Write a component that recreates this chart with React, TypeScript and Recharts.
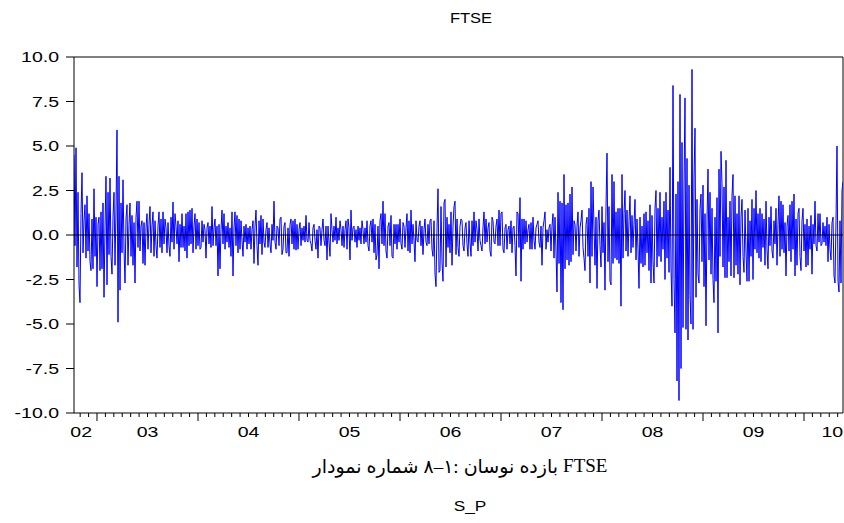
import { LineChart, Line, XAxis, YAxis, ReferenceLine } from "recharts"

// FTSE daily return (Oct 2002 - May 2010)
const r2002 = [4.5, -0.6, 4.9, -1.8, 2.4, -2.8, -3.8, 1.2, 3.5, -1.0, 0.8, 1.7, -1.3, 2.2, -0.9, 1.2, -1.5, -2.0, 0.9, -1.9, 2.6, -1.2, 1.0]
const r2003 = [
  -2.9, 0.6, 1.0, -2.0, 1.3, -1.9, 1.8, -3.5, 0.4, 3.3,
  -2.8, 2.4, -1.1, 3.2, -1.2, -2.2, 1.0, 2.4, -1.7, 1.4,
  5.9, -4.9, 3.3, -3.1, 1.8, -1.0, 3.1, -0.8, -2.7, 0.9,
  1.7, -1.7, 0.6, 1.8, -1.2, 1.1, -1.7, 0.7, -2.7, 1.0,
  1.9, -0.7, 1.9, -0.9, 0.5, 0.8, -1.6, 0.7, -1.7, 0.4,
  1.2, -0.8, 0.6, 1.6, -1.0, 0.5, 1.3, -1.2, 0.8, -0.6,
  -1.3, 0.5, 1.3, -0.7, 0.9, -1.0, 1.3, -0.5, 0.9, 0.4,
  -1.0, 0.7, -0.6, -1.2, 1.0, -0.4, 1.85, -0.8, 1.2, 0.5,
  -0.5, 0.8, -1.5, 0.6, -0.7, 1.2, -0.7, 0.5, -0.9, 1.2,
  -1.3, 1.3, -0.6, 1.4, -0.5, 1.5, -1.0, 0.5, 1.2, -0.8,
  0.9, -0.6,
]
const r2004 = [
  0.7, -0.8, -0.7, 0.8, -0.4, 0.6, 0.3, -1.3, 0.4, 0.7,
  -0.5, 0.5, -0.7, 1.6, -0.6, 0.4, 0.9, -0.6, 0.5, -2.3,
  0.6, -1.9, 0.3, 1.4, -0.5, 1.2, -0.8, 0.5, -0.4, 0.7,
  -0.7, 0.4, -1.2, 1.3, -2.3, 0.4, 1.3, -0.6, 1.1, -1.0,
  0.9, -0.8, 0.8, -0.3, -1.2, 0.5, -0.4, 0.6, -0.8, 0.4,
  -0.5, 0.5, -0.8, 0.3, 0.8, -1.6, 0.5, 1.4, -0.6, -1.7,
  0.8, -0.5, 1.1, -1.1, 0.9, -0.4, -0.7, 0.3, 0.7, -0.7,
  0.4, -0.5, -1.0, 0.6, -0.3, 1.9, -0.4, -0.8, 0.5, 0.4,
  -0.6, 0.9, 1.0, -1.1, -0.8, 0.5, 0.7, -1.0, -1.0, 0.4,
  -1.2, 0.6, 0.9, -0.5, 0.8, -0.8, 0.9, -0.85, 0.6, -0.8,
]
const r2005 = [
  0.3, 0.7, -0.6, 0.4, -0.3, 0.5, -0.4, 1.1, -0.3, -0.4,
  0.7, -0.3, -0.5, -0.9, 0.4, 0.6, -0.3, -0.8, 0.3, -1.3,
  0.5, 0.4, -0.6, 0.3, 0.9, -0.3, -0.6, 0.5, -1.4, 0.5,
  -0.4, -1.2, 1.2, 0.3, -0.4, 0.5, -0.3, 1.0, -0.5, 0.4,
  -0.3, 0.8, 0.3, -0.6, 0.5, -0.7, 0.3, 0.8, -0.8, 0.9,
  0.4, -1.4, 1.4, -0.3, 0.4, 0.5, -0.4, 0.3, -0.7, 0.5,
  -0.3, 0.4, -0.5, 0.8, 0.3, -0.5, 0.4, -0.4, 0.8, -0.6,
  -0.9, 0.5, 0.8, -0.4, 0.9, -1.0, 0.6, -1.4, -1.1, 0.5,
  -1.9, 0.8, 1.2, -0.5, 1.9, -0.6, 1.2, -0.9, -1.3, 0.5,
  0.7, -0.6, 1.1, -1.2, -1.3, 0.6, -0.5, 0.6, -0.8, 0.6,
  -0.4,
]
const r2006 = [
  0.9, -0.5, -0.8, 0.7, 0.5, -0.7, 0.4, 1.2, -0.9, 0.8,
  -1.0, 1.4, -0.5, 0.6, -0.3, -1.5, 0.8, -0.3, -0.4, 0.5,
  0.8, -0.6, 0.5, -1.1, 0.3, 0.9, -0.4, -0.6, 0.6, -0.5,
  0.8, 0.9, -0.8, -1.2, 0.8, -2.2, -2.9, 0.4, 2.6, -2.1,
  -2.0, 1.6, -1.5, -2.6, 1.8, 2.0, -1.8, 1.0, -0.7, 0.6,
  -1.0, 1.3, -1.7, 0.5, 1.6, 1.9, -1.1, 0.9, -0.7, -1.2,
  0.5, 0.9, 0.8, -0.6, -0.9, 0.4, 0.7, -0.5, -1.2, 0.8,
  -0.4, -1.2, 0.8, -0.6, 1.3, -0.4, 0.8, 0.3, -0.9, 0.9,
  -0.3, -0.6, -0.9, 0.4, 1.3, -0.5, 0.9, -0.4, 0.4, 0.7,
  -0.9, -1.2, 1.0, 0.8, -0.4, -0.5, 0.5, 0.9, -0.6, 1.4,
]
const r2007 = [
  -0.6, 1.2, 1.3, -0.8, -1.0, 0.4, 0.6, -0.8, 0.3, 0.5,
  -0.5, 0.8, -1.0, 0.4, 0.5, -0.6, -2.3, 1.3, 1.2, -0.7,
  2.1, -2.6, 0.9, -0.8, 0.9, -0.5, 0.8, -0.4, 0.3, 0.6,
  -0.8, 0.7, -0.8, 1.0, -0.3, -0.8, 0.4, 0.6, 0.8, -0.4,
  -0.7, 0.5, -1.7, 0.4, 0.8, 1.3, -0.8, 0.3, -0.4, 0.4,
  0.6, -0.9, 0.5, 1.2, -1.3, 1.0, -0.9, -3.2, 2.4, -1.6,
  1.9, -3.8, 1.8, -4.2, 3.4, -1.9, 1.7, -1.4, 1.8, -1.7,
  2.3, -1.5, 2.7, -1.1, 0.8, 0.6, -0.9, 0.5, 1.3, -1.2,
  0.4, 0.8, 1.4, -0.7, -1.3, -2.0, 0.6, 1.0, -1.2, 1.5,
  -2.7, 3.0, -1.2, 2.7, 0.5, -1.7, 1.0, -3.0, 0.8, 1.4,
  -0.6,
]
const r2008 = [
  -1.8, 1.6, -1.0, 0.7, -3.1, 1.6, 4.6, -1.5, 1.6, -2.6,
  -2.8, 3.4, -1.6, 3.0, -1.3, 1.3, -1.4, 1.5, -1.6, 1.5,
  -4.0, 3.4, -1.3, 1.2, 2.5, -0.9, 1.4, -1.2, 0.8, 2.2,
  -1.0, 1.1, -0.7, 0.6, 2.0, -1.4, 0.9, -0.8, -3.0, 1.0,
  -1.6, 0.5, -1.8, 1.2, -1.7, 1.3, -1.0, 0.8, -2.0, 1.7,
  -2.7, 1.1, -1.5, -2.7, 1.5, 2.5, -1.8, 1.5, -1.2, 2.4,
  -1.5, 1.0, -0.8, 1.9, -2.5, 2.4, -1.3, 1.4, -2.1, 3.8,
  -1.9, -4.0, 8.4, -2.5, -5.5, 2.3, -8.2, 3.0, -9.3, 7.9,
  -7.5, 5.2, -5.2, 2.8, 7.7, -5.3, 4.3, -5.9, 2.8, -3.4,
  -5.0, 9.3, -5.3, 3.2, 6.0, -3.5, 2.0, -2.2, -2.7, 1.5,
  2.3, -1.5,
]
const r2009 = [
  2.8, -2.9, 1.2, -5.1, 0.8, 3.7, -1.4, 2.4, -2.2, 1.5,
  -2.5, -3.8, 1.0, -2.6, 2.1, -5.5, 3.7, -1.2, 4.7, 2.9,
  -1.8, 2.7, -2.4, 4.2, -2.4, 1.0, -1.5, 1.9, -2.3, 2.2,
  3.4, -2.4, 2.2, -1.7, 1.2, -2.2, 2.2, -2.8, 1.0, 2.0,
  -1.2, -2.1, 1.4, -0.9, -2.6, 1.5, -2.6, 0.8, -1.2, 2.0,
  -2.5, 1.5, -0.8, 2.5, -1.0, 1.2, -1.3, 1.5, -1.5, 1.2,
  -0.7, 0.9, -1.7, 1.9, -0.8, -1.9, 1.0, -0.6, 1.6, -0.9,
  -1.3, 0.8, -0.5, 1.5, -1.7, 0.6, 2.2, -1.2, 1.9, -0.8,
  1.7, -1.0, 0.7, -2.3, 0.5, 1.1, -0.9, 1.7, -1.5, 1.9,
  -0.8, 2.3, -2.3, 0.9, -1.7, 1.2, 1.5, -1.2, -2.0, 0.8,
  1.5,
]
const r2010 = [
  -0.9, 0.6, -1.8, 0.9, -1.7, 0.5, -0.8, 1.1, -2.2, 0.6,
  -0.5, 1.9, -0.6, -0.9, 1.2, -0.4, 1.2, -0.6, -0.5, 0.7,
  -0.4, 0.5, -0.6, 1.0, -1.5, 0.6, -0.8, -1.4, 0.7, 1.0,
  -2.3, -2.7, 0.8, 5.0, -2.6, -3.2, 0.8, -2.7, 2.5, 3.0,
]

const ftse = [...r2002, ...r2003, ...r2004, ...r2005, ...r2006, ...r2007, ...r2008, ...r2009, ...r2010]

const START = 2002.7723
const END = 2010.3861

const yTicks = [-10, -7.5, -5, -2.5, 0, 2.5, 5, 7.5, 10]
const years = [2002, 2003, 2004, 2005, 2006, 2007, 2008, 2009, 2010]

const monthTicks: number[] = []
for (const y of years) {
  for (let m = 0; m < 12; m++) {
    const t = y + m / 12
    if (t > START && t < END) monthTicks.push(t)
  }
}

// trading days are spread evenly over the sample
const data = ftse.map((v, i) => ({ t: START + (i * (END - START)) / (ftse.length - 1), v }))

const FONT = "'Liberation Sans', Arial, sans-serif"
const STRETCH = 1.3

function MonthTick(props: any) {
  const { x, y, payload } = props
  const v = payload.value
  const year = Math.floor(v + 1e-6)
  const month = Math.round((v - year) * 12)
  const major = month === 0
  // the year label sits in the middle of each year; the first and last years are partial
  let label: string | null = null
  let dx = 0
  if (month === 6 && year > 2002 && year < 2010) label = String(year).slice(2)
  if (year === 2002 && month === 10) { label = "02"; dx = 1 }
  if (year === 2010 && month === 3) { label = "10"; dx = 3 }
  return (
    <g>
      <line x1={x} x2={x} y1={y} y2={y + (major ? 8 : 4)} stroke="#000" strokeWidth={1} />
      {label && (
        <text
          transform={`translate(${x + dx},${y + 24}) scale(${STRETCH},1)`}
          textAnchor="middle"
          fontSize={15}
          fontFamily={FONT}
          fill="#000"
        >
          {label}
        </text>
      )}
    </g>
  )
}

function ValueTick(props: any) {
  const { x, y, payload } = props
  return (
    <text
      transform={`translate(${x},${y + 5}) scale(${STRETCH},1)`}
      textAnchor="end"
      fontSize={15}
      fontFamily={FONT}
      fill="#000"
    >
      {Number(payload.value).toFixed(1)}
    </text>
  )
}

const captionWords = ["نمودار", "شماره", "۸–۱:", "نوسان", "بازده", "FTSE"]

export default function App() {
  return (
    <div style={{ position: "absolute", left: 0, top: 0, width: 844, height: 523, background: "#fff" }}>
      <div style={{ position: "absolute", left: 371, top: 9, width: 200, textAlign: "center", fontFamily: FONT, fontSize: 15, transform: "scaleX(1.1)" }}>
        FTSE
      </div>
      <LineChart width={844} height={523} data={data} margin={{ top: 57, right: 1, bottom: 80, left: 0 }}>
        <XAxis
          dataKey="t"
          type="number"
          domain={[START, END]}
          allowDataOverflow
          ticks={monthTicks}
          interval={0}
          tickLine={false}
          tickSize={0}
          tickMargin={0}
          tick={MonthTick}
          axisLine={{ stroke: "#000" }}
          height={30}
        />
        <YAxis
          domain={[-10, 10]}
          ticks={yTicks}
          interval={0}
          width={74}
          tickSize={8}
          tickMargin={7}
          tick={ValueTick}
          tickLine={{ stroke: "#000" }}
          axisLine={{ stroke: "#000" }}
        />
        <ReferenceLine y={10} stroke="#000" />
        <ReferenceLine x={END} stroke="#000" />
        <Line type="linear" dataKey="v" stroke="#0000ff" strokeWidth={1} dot={false} isAnimationActive={false} />
        <ReferenceLine y={0} stroke="#000" />
      </LineChart>
      <div
        style={{
          position: "absolute",
          left: 160,
          top: 455,
          width: 600,
          display: "flex",
          flexDirection: "row",
          justifyContent: "center",
          gap: 5,
          fontFamily: "'Liberation Serif', 'Times New Roman', 'DejaVu Serif', 'DejaVu Sans', serif",
          fontSize: 19,
        }}
      >
        {captionWords.map((w, i) => (
          <span key={i} style={i === 2 ? { direction: "ltr", unicodeBidi: "bidi-override" } : undefined}>
            {w}
          </span>
        ))}
      </div>
      <div style={{ position: "absolute", left: 370, top: 497, width: 200, textAlign: "center", fontFamily: FONT, fontSize: 15, transform: "scaleX(1.15)" }}>
        S_P
      </div>
    </div>
  )
}
